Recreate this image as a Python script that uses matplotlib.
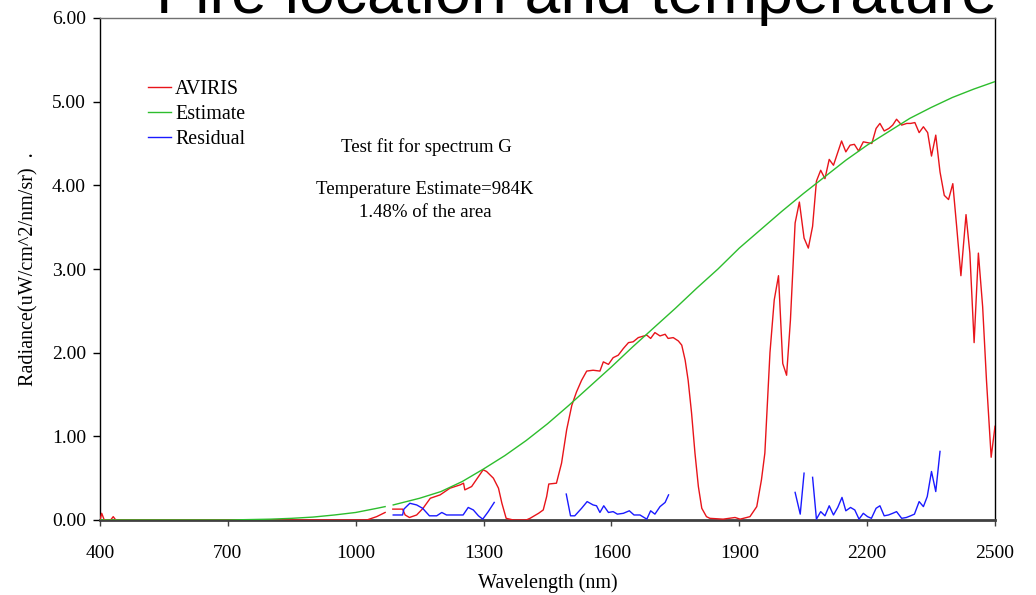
import numpy as np
import matplotlib
matplotlib.use("Agg")
import matplotlib.pyplot as plt

nan = float("nan")

# AVIRIS measured radiance (gap near 1080 nm)
aviris_nm = [400, 404, 410, 425, 431, 437, 500, 600, 700, 800, 900, 1000, 1026, 1049, 1069, 1078,
             1087, 1110, 1116, 1126, 1143, 1158, 1175, 1198, 1221, 1245, 1253, 1256, 1272, 1299,
             1307, 1323, 1335, 1343, 1353, 1370, 1400, 1409, 1429, 1440, 1448, 1453, 1471, 1483,
             1495, 1507, 1518, 1530, 1542, 1557, 1573, 1581, 1593, 1604, 1616, 1628, 1640, 1651,
             1663, 1683, 1692, 1702, 1714, 1726, 1733, 1745, 1757, 1765, 1773, 1780, 1788, 1796,
             1804, 1812, 1823, 1831, 1862, 1890, 1902, 1925, 1941, 1952, 1960, 1972, 1982, 1992,
             2002, 2011, 2020, 2031, 2041, 2052, 2062, 2072, 2081, 2091, 2101, 2111, 2121, 2140,
             2150, 2160, 2170, 2180, 2191, 2201, 2211, 2221, 2230, 2240, 2251, 2260, 2269, 2281,
             2293, 2302, 2312, 2322, 2332, 2342, 2351, 2361, 2371, 2381, 2391, 2401, 2410, 2420,
             2432, 2441, 2451, 2461, 2471, 2480, 2491, 2500]
aviris_val = [0.0, 0.08, 0.0, 0.0, 0.04, 0.0, 0.0, 0.0, 0.0, 0.0, 0.0, 0.0, 0.0, 0.04, 0.09, nan,
              0.13, 0.13, 0.06, 0.03, 0.06, 0.14, 0.26, 0.30, 0.38, 0.42, 0.44, 0.36, 0.40, 0.60,
              0.58, 0.50, 0.38, 0.20, 0.02, 0.0, 0.0, 0.02, 0.08, 0.12, 0.28, 0.43, 0.44, 0.68,
              1.08, 1.37, 1.53, 1.67, 1.78, 1.79, 1.78, 1.89, 1.86, 1.94, 1.97, 2.05, 2.12, 2.13,
              2.18, 2.21, 2.17, 2.24, 2.20, 2.22, 2.17, 2.18, 2.14, 2.09, 1.91, 1.67, 1.28, 0.80,
              0.40, 0.14, 0.04, 0.02, 0.01, 0.03, 0.01, 0.04, 0.16, 0.48, 0.80, 2.00, 2.63, 2.92,
              1.87, 1.73, 2.39, 3.55, 3.80, 3.37, 3.25, 3.51, 4.05, 4.18, 4.08, 4.31, 4.24, 4.53,
              4.40, 4.48, 4.49, 4.41, 4.52, 4.51, 4.50, 4.68, 4.74, 4.65, 4.68, 4.72, 4.79, 4.72,
              4.74, 4.74, 4.75, 4.63, 4.70, 4.63, 4.35, 4.60, 4.16, 3.88, 3.83, 4.02, 3.51, 2.92,
              3.65, 3.19, 2.12, 3.19, 2.55, 1.67, 0.75, 1.12]

# fitted blackbody estimate
estimate_nm = [400, 500, 600, 700, 750, 800, 850, 900, 950, 1000, 1050, 1069, 1078, 1088, 1150,
               1200, 1250, 1300, 1350, 1400, 1450, 1500, 1550, 1600, 1650, 1700, 1750, 1800, 1850,
               1900, 1950, 2000, 2050, 2100, 2150, 2200, 2250, 2300, 2350, 2400, 2450, 2500]
estimate_val = [0.0, 0.0, 0.0, 0.0, 0.005, 0.01, 0.02, 0.035, 0.06, 0.09, 0.14, 0.16, nan, 0.18,
                0.26, 0.34, 0.46, 0.61, 0.77, 0.95, 1.15, 1.37, 1.60, 1.83, 2.07, 2.30, 2.53,
                2.77, 3.00, 3.25, 3.47, 3.69, 3.90, 4.10, 4.30, 4.48, 4.64, 4.80, 4.93, 5.05,
                5.15, 5.24]

# residual, only where it was computed
residual_nm = [1088, 1110, 1113, 1127, 1143, 1157, 1173, 1190, 1202, 1213, 1233, 1252, 1264, 1276,
               1288, 1298, 1311, 1325, 1400,
               1494, 1504, 1514, 1530, 1543, 1557, 1565, 1573, 1582, 1593, 1604, 1614, 1628, 1642,
               1653, 1667, 1683, 1692, 1702, 1714, 1726, 1734, 1900,
               2031, 2043, 2052, 2062,
               2072, 2081, 2091, 2101, 2111, 2121, 2131, 2141, 2150, 2161, 2171, 2181, 2191, 2201,
               2210, 2221, 2230, 2240, 2250, 2260, 2269, 2281, 2292, 2302, 2311, 2322, 2332, 2341,
               2351, 2361, 2371]
residual_val = [0.06, 0.06, 0.13, 0.20, 0.18, 0.14, 0.05, 0.05, 0.09, 0.06, 0.06, 0.06, 0.15, 0.12,
                0.05, 0.01, 0.10, 0.21, nan,
                0.31, 0.05, 0.05, 0.14, 0.22, 0.18, 0.17, 0.09, 0.17, 0.09, 0.10, 0.07, 0.08, 0.11,
                0.06, 0.06, 0.01, 0.11, 0.07, 0.16, 0.21, 0.30, nan,
                0.33, 0.07, 0.56, nan,
                0.51, 0.01, 0.10, 0.05, 0.17, 0.06, 0.15, 0.27, 0.11, 0.15, 0.12, 0.01, 0.08, 0.04,
                0.02, 0.14, 0.17, 0.05, 0.06, 0.08, 0.10, 0.02, 0.03, 0.05, 0.07, 0.22, 0.16, 0.28,
                0.58, 0.34, 0.82]

x_ticks = [400, 700, 1000, 1300, 1600, 1900, 2200, 2500]
y_ticks = [0, 1, 2, 3, 4, 5, 6]

W, H = 1036, 595
serif = ['Liberation Serif', 'DejaVu Serif']
plt.rcParams['font.family'] = serif

fig = plt.figure(figsize=(W / 100, H / 100), dpi=100)
ax = fig.add_axes([100 / W, 1 - 520 / H, 895 / W, 502 / H])

ax.plot(aviris_nm, aviris_val, color='#e8141a', lw=1.0, label='AVIRIS', zorder=3)
ax.plot(estimate_nm, estimate_val, color='#2dbd2d', lw=1.0, label='Estimate', zorder=3)
ax.plot(residual_nm, residual_val, color='#1a1aff', lw=1.0, label='Residual', zorder=3)

ax.set_xlim(400, 2500)
ax.set_ylim(0, 6)
ax.set_xticks(x_ticks)
ax.set_yticks(y_ticks)
ax.set_yticklabels([f'{v:.2f}' for v in y_ticks])
ax.tick_params(axis='x', direction='out', length=4.5, width=1, color='#404040', pad=13.5, labelsize=14)
ax.tick_params(axis='y', direction='out', length=5, width=1, color='black', pad=5, labelsize=14)

ax.spines['left'].set_color('black')
ax.spines['left'].set_linewidth(1)
ax.spines['right'].set_color('black')
ax.spines['right'].set_linewidth(1)
ax.spines['top'].set_color('#707070')
ax.spines['top'].set_linewidth(1)
ax.spines['bottom'].set_color('#404040')
ax.spines['bottom'].set_linewidth(2)

ax.set_xlabel('Wavelength (nm)', fontsize=14.5, labelpad=8)
ax.set_ylabel('Radiance(uW/cm^2/nm/sr)  .', fontsize=14.5, labelpad=10)

fig.legend(loc='upper left', bbox_to_anchor=(148 / W, 1 - 80 / H), frameon=False,
           fontsize=14.4, handlelength=1.15, handletextpad=0.2, labelspacing=0.3,
           borderpad=0, borderaxespad=0)

fig.text(426 / W, 1 - 147 / H, 'Test fit for spectrum G', ha='center', va='center', fontsize=13.5)
fig.text(425 / W, 1 - 190 / H, 'Temperature Estimate=984K', ha='center', va='center', fontsize=13.5)
fig.text(425 / W, 1 - 212 / H, '1.48% of the area', ha='center', va='center', fontsize=13.5)

fig.text(577 / W, 1 - 13 / H, 'Fire location and temperature', ha='center', va='baseline',
         fontsize=46.4, family=['Liberation Sans', 'DejaVu Sans'])

fig.savefig('out.png', dpi=100)
